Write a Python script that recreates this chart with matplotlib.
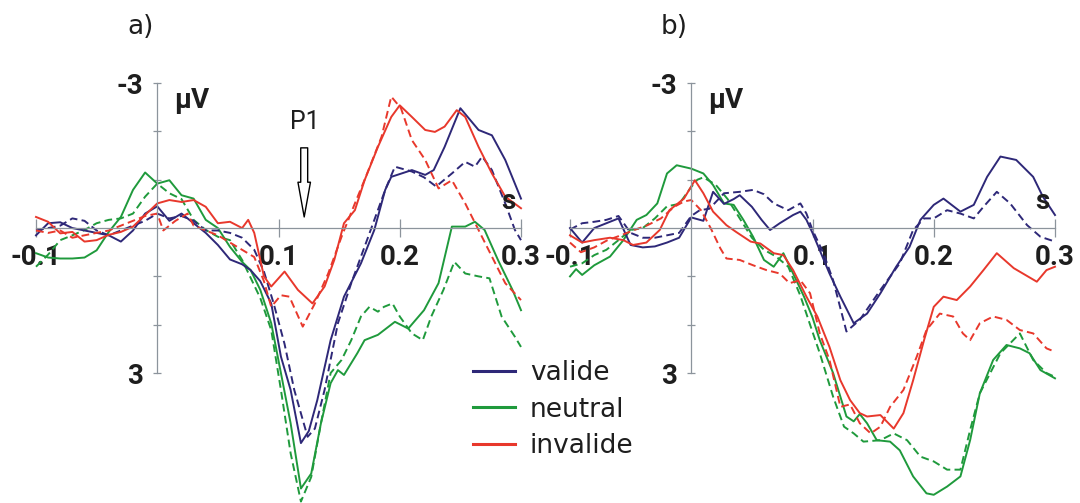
import matplotlib
matplotlib.use("Agg")
import matplotlib.pyplot as plt
from matplotlib.lines import Line2D

# ---------------- data (time in s, amplitude in µV; negative drawn upward) -------------
# panel a)
a_valide_solid_t = [-0.1,-0.09,-0.08,-0.07,-0.06,-0.05,-0.04,-0.03,-0.02,-0.01,0,0.01,0.02,0.03,0.04,0.05,0.06,0.07,0.077,0.085,0.094,0.102,0.11,0.1185,0.125,0.132,0.143,0.154,0.168,0.179,0.188,0.193,0.21,0.221,0.228,0.237,0.25,0.265,0.276,0.287,0.3]
a_valide_solid_v = [0.15,-0.1,-0.12,0.0,0.05,0.1,0.15,0.28,0.05,-0.3,-0.45,-0.15,-0.3,-0.1,0.1,0.35,0.65,0.75,0.87,1.1,1.56,2.66,3.35,4.45,4.2,3.56,2.32,1.42,0.73,0.04,-0.79,-1.06,-1.2,-1.1,-1.2,-1.68,-2.48,-2.03,-1.92,-1.41,-0.61]

a_valide_dash_t = [-0.1,-0.09,-0.08,-0.07,-0.06,-0.05,-0.04,-0.03,-0.02,-0.01,0,0.01,0.02,0.03,0.04,0.05,0.06,0.07,0.08,0.088,0.096,0.105,0.113,0.124,0.13,0.138,0.149,0.16,0.174,0.188,0.196,0.21,0.22,0.23,0.243,0.254,0.262,0.268,0.276,0.287,0.295,0.3]
a_valide_dash_v = [0.05,0.0,-0.05,-0.2,-0.15,0.05,0.15,0.05,-0.05,-0.15,-0.3,-0.2,-0.25,-0.15,0.05,0.05,0.1,0.2,0.45,0.9,1.56,2.4,3.35,4.32,4.15,3.35,1.97,1.14,0.18,-0.79,-1.27,-1.17,-1.05,-0.86,-1.13,-1.37,-1.27,-1.48,-1.2,-0.51,0.04,0.25]

a_neutral_solid_t = [-0.1,-0.09,-0.08,-0.07,-0.06,-0.05,-0.04,-0.03,-0.02,-0.01,0,0.01,0.02,0.03,0.04,0.05,0.06,0.07,0.077,0.085,0.094,0.102,0.11,0.1185,0.127,0.135,0.143,0.149,0.154,0.165,0.171,0.182,0.196,0.207,0.22,0.232,0.243,0.254,0.262,0.27,0.281,0.293,0.3]
a_neutral_solid_v = [0.52,0.61,0.63,0.63,0.61,0.46,0.08,-0.23,-0.79,-1.15,-0.92,-0.99,-0.68,-0.61,-0.17,0.0,0.39,0.7,0.87,1.28,1.97,3.0,4.04,5.39,5.08,4.04,3.21,2.94,3.04,2.59,2.32,2.21,1.94,2.08,1.70,1.14,-0.03,-0.03,-0.13,0.04,0.66,1.28,1.70]

a_neutral_dash_t = [-0.1,-0.09,-0.08,-0.07,-0.06,-0.05,-0.04,-0.03,-0.02,-0.01,0,0.01,0.02,0.03,0.04,0.05,0.06,0.07,0.085,0.094,0.102,0.11,0.1185,0.127,0.135,0.143,0.152,0.16,0.168,0.175,0.182,0.187,0.194,0.2,0.21,0.219,0.226,0.236,0.245,0.254,0.265,0.274,0.284,0.295,0.3]
a_neutral_dash_v = [0.8,0.55,0.25,0.15,0.04,-0.1,-0.17,-0.2,-0.3,-0.65,-0.92,-0.72,-0.6,-0.17,0.04,0.18,0.25,0.66,1.45,2.11,3.35,4.66,5.66,5.15,4.04,3.0,2.73,2.32,1.83,1.63,1.73,1.63,1.56,1.83,2.18,2.32,1.83,1.28,0.70,0.94,1.0,1.04,1.83,2.25,2.46]

a_invalide_solid_t = [-0.1,-0.09,-0.08,-0.07,-0.06,-0.05,-0.04,-0.03,-0.02,-0.01,0,0.01,0.02,0.03,0.04,0.05,0.06,0.07,0.075,0.08,0.088,0.094,0.105,0.116,0.128,0.138,0.146,0.154,0.163,0.171,0.182,0.193,0.2,0.21,0.221,0.229,0.237,0.247,0.254,0.265,0.276,0.287,0.3]
a_invalide_solid_v = [-0.23,-0.13,0.11,0.08,0.28,0.25,0.14,0.08,-0.03,-0.27,-0.51,-0.58,-0.54,-0.58,-0.44,-0.1,-0.13,0.0,-0.17,0.1,1.0,1.21,0.9,1.28,1.56,1.21,0.66,-0.1,-0.37,-0.99,-1.68,-2.3,-2.54,-2.3,-2.03,-1.99,-2.1,-2.44,-2.3,-1.68,-1.13,-0.65,-0.41]

a_invalide_dash_t = [-0.1,-0.09,-0.08,-0.07,-0.06,-0.05,-0.04,-0.03,-0.02,-0.01,0,0.005,0.015,0.025,0.03,0.04,0.05,0.06,0.07,0.08,0.088,0.094,0.102,0.109,0.12,0.13,0.141,0.152,0.163,0.172,0.185,0.193,0.201,0.21,0.221,0.232,0.243,0.254,0.265,0.276,0.287,0.3]
a_invalide_dash_v = [0.05,0.1,0.05,0.2,0.15,0.1,0.05,-0.05,-0.15,-0.25,-0.3,0.05,-0.15,-0.3,-0.05,0.05,0.15,0.3,0.45,0.6,1.1,1.63,1.39,1.42,2.04,1.56,0.94,0.18,-0.51,-1.06,-1.89,-2.72,-2.48,-1.82,-1.41,-0.82,-0.99,-0.51,0.04,0.59,1.14,1.49]

# panel b)
b_valide_solid_t = [-0.1,-0.09,-0.08,-0.07,-0.06,-0.05,-0.04,-0.03,-0.02,-0.01,0,0.01,0.018,0.027,0.035,0.04,0.05,0.058,0.065,0.073,0.084,0.09,0.095,0.1,0.106,0.114,0.123,0.134,0.145,0.156,0.169,0.18,0.189,0.2,0.208,0.222,0.233,0.244,0.255,0.268,0.282,0.29,0.3]
b_valide_solid_v = [0.0,0.3,0.0,-0.1,-0.2,0.35,0.4,0.38,0.3,0.2,-0.22,-0.15,-0.75,-0.5,-0.6,-0.68,-0.44,-0.17,0.04,-0.1,-0.27,-0.34,-0.17,0.1,0.46,0.94,1.42,1.97,1.77,1.35,0.8,0.39,-0.17,-0.48,-0.61,-0.34,-0.48,-1.06,-1.48,-1.41,-1.06,-0.65,-0.27]

b_valide_dash_t = [-0.1,-0.09,-0.08,-0.07,-0.06,-0.05,-0.04,-0.03,-0.02,-0.01,0,0.007,0.015,0.027,0.04,0.051,0.06,0.068,0.08,0.09,0.095,0.1,0.109,0.117,0.128,0.139,0.156,0.172,0.183,0.192,0.2,0.211,0.222,0.233,0.241,0.252,0.263,0.277,0.288,0.3]
b_valide_dash_v = [0.03,-0.1,-0.13,-0.17,-0.25,0.1,0.2,0.2,0.15,0.1,-0.25,-0.37,-0.4,-0.72,-0.75,-0.79,-0.7,-0.51,-0.37,-0.51,-0.3,0.04,0.52,1.08,2.14,1.9,1.28,0.73,0.04,-0.2,-0.2,-0.37,-0.3,-0.2,-0.44,-0.75,-0.51,-0.06,0.18,0.28]

b_neutral_solid_t = [-0.1,-0.095,-0.09,-0.08,-0.067,-0.056,-0.045,-0.037,-0.028,-0.02,-0.012,0,0.01,0.018,0.027,0.035,0.043,0.051,0.06,0.068,0.076,0.084,0.093,0.1,0.106,0.117,0.128,0.134,0.139,0.145,0.153,0.164,0.172,0.183,0.194,0.2,0.211,0.222,0.23,0.238,0.249,0.26,0.271,0.279,0.288,0.3]
b_neutral_solid_v = [1.0,0.85,0.97,0.77,0.59,0.25,-0.17,-0.27,-0.51,-1.13,-1.3,-1.23,-1.13,-0.89,-0.51,-0.48,-0.17,0.18,0.66,0.8,0.52,0.94,1.42,1.85,2.32,3.0,3.9,4.0,3.85,4.04,4.39,4.42,4.6,5.14,5.49,5.52,5.35,5.14,4.39,3.42,2.73,2.42,2.49,2.59,2.94,3.11]

b_neutral_dash_t = [-0.1,-0.09,-0.08,-0.07,-0.06,-0.05,-0.04,-0.03,-0.02,-0.01,0,0.005,0.01,0.02,0.03,0.04,0.05,0.06,0.07,0.08,0.09,0.098,0.106,0.117,0.126,0.134,0.142,0.156,0.167,0.178,0.189,0.2,0.211,0.222,0.23,0.238,0.255,0.271,0.282,0.293,0.3]
b_neutral_dash_v = [0.8,0.73,0.56,0.45,0.25,0.04,0.0,-0.2,-0.45,-0.5,-0.85,-1.0,-1.05,-0.9,-0.6,-0.2,0.2,0.45,0.59,0.8,1.4,2.0,2.59,3.49,4.11,4.25,4.42,4.39,4.25,4.39,4.73,4.83,5.0,5.0,4.18,3.42,2.59,2.18,2.73,3.0,3.08]

b_invalide_solid_t = [-0.1,-0.09,-0.08,-0.067,-0.056,-0.048,-0.037,-0.026,-0.018,-0.006,0.003,0.01,0.018,0.029,0.037,0.049,0.057,0.068,0.076,0.084,0.095,0.104,0.114,0.123,0.131,0.139,0.145,0.156,0.167,0.175,0.183,0.192,0.2,0.208,0.219,0.23,0.241,0.252,0.266,0.285,0.293,0.3]
b_invalide_solid_v = [0.15,0.3,0.25,0.2,0.25,0.35,0.3,0.04,-0.37,-0.61,-0.99,-0.72,-0.34,-0.06,0.08,0.28,0.32,0.52,0.56,0.87,1.42,1.83,2.46,3.15,3.56,3.83,3.9,3.87,4.15,3.83,3.15,2.32,1.63,1.42,1.49,1.21,0.87,0.52,0.83,1.11,0.87,0.8]

b_invalide_dash_t = [-0.1,-0.091,-0.08,-0.069,-0.058,-0.047,-0.036,-0.025,-0.014,-0.006,0,0.008,0.016,0.024,0.029,0.04,0.051,0.062,0.073,0.081,0.09,0.098,0.106,0.114,0.123,0.131,0.139,0.148,0.156,0.164,0.175,0.186,0.194,0.205,0.216,0.224,0.23,0.238,0.249,0.26,0.271,0.282,0.293,0.3]
b_invalide_dash_v = [0.3,0.5,0.4,0.25,0.15,0.04,-0.06,-0.2,-0.44,-0.55,-0.58,-0.37,0.0,0.42,0.63,0.66,0.77,0.87,0.94,1.14,1.08,1.35,2.18,2.73,3.7,3.65,4.04,4.25,4.11,3.7,3.35,2.66,2.11,1.77,1.83,2.18,2.32,1.97,1.83,1.9,2.11,2.18,2.49,2.56]

x_ticks = [-0.1, 0.1, 0.2, 0.3]
x_tick_labels = ["-0.1", "0.1", "0.2", "0.3"]
y_ticks = [-3, -2, -1, 1, 2, 3]
y_tick_labels = ["-3", "", "", "", "", "3"]
conditions = ["valide", "neutral", "invalide"]
panel_labels = ["a)", "b)"]

# ---------------- style ----------------
C_VAL = "#2e2878"
C_NEU = "#1f9a3c"
C_INV = "#e8382c"
AX_C = "#8c949c"
TXT = "#1e1e1e"
FONT = ["Roboto", "DejaVu Sans"]
FONT2 = ["DejaVu Sans"]
LW = 1.4
DASH = (4.0, 2.2)

W, H = 1080, 503
fig = plt.figure(figsize=(W / 100, H / 100), dpi=100)
fig.patch.set_facecolor("white")

ylim = (5.69, -4.72)

def make_axes(left_px):
    ax = fig.add_axes([left_px / W, 0, 485 / W, 1])
    ax.set_xlim(-0.1, 0.3)
    ax.set_ylim(*ylim)
    ax.patch.set_alpha(0)
    for s in ("top", "right"):
        ax.spines[s].set_visible(False)
    ax.spines["left"].set_position(("data", 0))
    ax.spines["bottom"].set_position(("data", 0))
    ax.spines["left"].set_bounds(-3, 3)
    ax.spines["bottom"].set_bounds(-0.1, 0.3)
    for s in ("left", "bottom"):
        ax.spines[s].set_color(AX_C)
        ax.spines[s].set_linewidth(0.9)
    ax.set_xticks(x_ticks)
    ax.set_xticklabels(x_tick_labels)
    ax.set_yticks(y_ticks)
    ax.set_yticklabels(y_tick_labels)
    ax.tick_params(axis="x", direction="inout", length=13, width=0.9, color=AX_C,
                   pad=5, labelsize=20, labelcolor=TXT)
    ax.tick_params(axis="y", direction="inout", length=6, width=0.9, color=AX_C,
                   pad=7, labelsize=20, labelcolor=TXT)
    for lab in ax.get_xticklabels() + ax.get_yticklabels():
        lab.set_family(FONT)
        lab.set_fontweight("bold")
    return ax

axA = make_axes(36)
axB = make_axes(570)

def draw(ax, series):
    for t, v, col, dashed in series:
        ln, = ax.plot(t, v, color=col, lw=LW, solid_joinstyle="round", clip_on=False)
        if dashed:
            ln.set_dashes(DASH)

draw(axA, [
    (a_neutral_solid_t, a_neutral_solid_v, C_NEU, False),
    (a_neutral_dash_t, a_neutral_dash_v, C_NEU, True),
    (a_valide_solid_t, a_valide_solid_v, C_VAL, False),
    (a_valide_dash_t, a_valide_dash_v, C_VAL, True),
    (a_invalide_solid_t, a_invalide_solid_v, C_INV, False),
    (a_invalide_dash_t, a_invalide_dash_v, C_INV, True),
])
draw(axB, [
    (b_neutral_solid_t, b_neutral_solid_v, C_NEU, False),
    (b_neutral_dash_t, b_neutral_dash_v, C_NEU, True),
    (b_valide_solid_t, b_valide_solid_v, C_VAL, False),
    (b_valide_dash_t, b_valide_dash_v, C_VAL, True),
    (b_invalide_solid_t, b_invalide_solid_v, C_INV, False),
    (b_invalide_dash_t, b_invalide_dash_v, C_INV, True),
])

for ax, lab in zip((axA, axB), panel_labels):
    ax.text(0.014, -2.65, "µV", fontsize=20, fontweight="bold", family=FONT, color=TXT,
            ha="left", va="center")
    ax.text(0.29, -0.55, "s", fontsize=20, fontweight="bold", family=FONT, color=TXT,
            ha="center", va="center")
    ax.text(-0.014, -4.16, lab, fontsize=19, fontweight="normal", family=FONT2, color=TXT,
            ha="center", va="center")

# P1 arrow
axA.text(0.122, -2.19, "P1", fontsize=18, fontweight="normal", family=FONT, color=TXT,
         ha="center", va="center")
axA.annotate("", xy=(0.1212, -0.23), xytext=(0.1212, -1.66),
             arrowprops=dict(arrowstyle="simple,head_length=2.5,head_width=0.9,tail_width=0.5",
                             fc="white", ec="black", lw=1.0, mutation_scale=10,
                             shrinkA=0, shrinkB=0))

# legend
handles = [Line2D([], [], color=c, lw=2.2) for c in (C_VAL, C_NEU, C_INV)]
leg = fig.legend(handles, conditions, loc="upper left",
                 bbox_to_anchor=(473 / W, 1 - 360 / H), frameon=False,
                 prop={"family": FONT2, "size": 19}, handlelength=1.6, handletextpad=0.55,
                 labelspacing=0.4, borderpad=0, borderaxespad=0)
for tx in leg.get_texts():
    tx.set_color(TXT)

fig.savefig("out.png", dpi=100, facecolor="white")
